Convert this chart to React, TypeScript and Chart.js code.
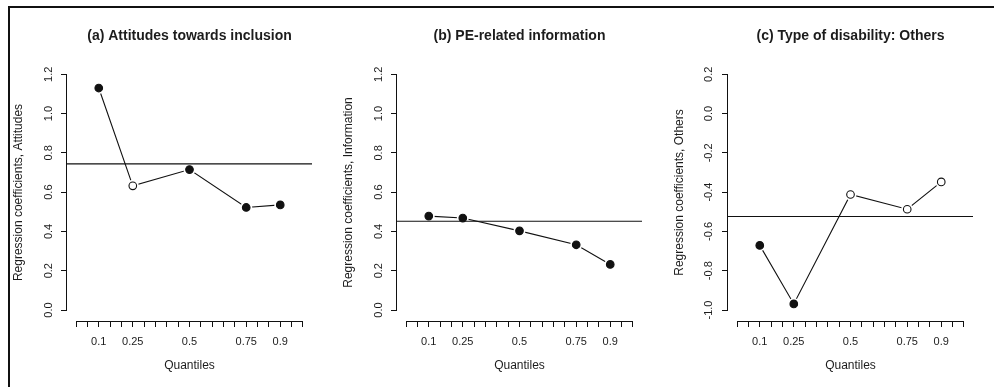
import React, { useEffect, useRef } from "react";
import { Chart, registerables } from "chart.js";

Chart.register(...registerables);

// ---- data ----
const QUANTILES = [0.1, 0.25, 0.5, 0.75, 0.9];
const X_TICKS = [0, 0.05, 0.1, 0.15, 0.2, 0.25, 0.3, 0.35, 0.4, 0.45, 0.5, 0.55, 0.6, 0.65, 0.7, 0.75, 0.8, 0.85, 0.9, 0.95, 1];
const X_LABELED = [0.1, 0.25, 0.5, 0.75, 0.9];

const ATTITUDES = [1.13, 0.632, 0.715, 0.522, 0.535];
const ATTITUDES_SIG = [true, false, true, true, true];
const ATTITUDES_OLS = 0.744;

const INFORMATION = [0.478, 0.468, 0.403, 0.332, 0.232];
const INFORMATION_SIG = [true, true, true, true, true];
const INFORMATION_OLS = 0.452;

const OTHERS = [-0.671, -0.969, -0.412, -0.487, -0.348];
const OTHERS_SIG = [true, true, false, false, false];
const OTHERS_OLS = -0.524;

const Y_TICKS_POS = [0, 0.2, 0.4, 0.6, 0.8, 1.0, 1.2];
const Y_TICKS_NEG = [-1.0, -0.8, -0.6, -0.4, -0.2, 0.0, 0.2];

const TITLES = [
  "(a) Attitudes towards inclusion",
  "(b) PE-related information",
  "(c) Type of disability: Others",
];
const Y_TITLES = [
  "Regression coefficients, Attitudes",
  "Regression coefficients, Information",
  "Regression coefficients, Others",
];
const X_TITLE = "Quantiles";

// ---- styling / layout ----
const FONT = "'Liberation Sans', Arial, Helvetica, sans-serif";
const INK = "#111111";
const TEXT = "#1c1c1c";
const X_MIN = -0.04;
const X_MAX = 1.04;

type Panel = {
  title: string;
  yTitle: string;
  values: number[];
  sig: boolean[];
  ols: number;
  yTicks: number[];
  yMin: number;
  yMax: number;
  left: number;
};

const PANELS: Panel[] = [
  { title: TITLES[0], yTitle: Y_TITLES[0], values: ATTITUDES, sig: ATTITUDES_SIG, ols: ATTITUDES_OLS, yTicks: Y_TICKS_POS, yMin: -0.056, yMax: 1.2524, left: 0 },
  { title: TITLES[1], yTitle: Y_TITLES[1], values: INFORMATION, sig: INFORMATION_SIG, ols: INFORMATION_OLS, yTicks: Y_TICKS_POS, yMin: -0.056, yMax: 1.2524, left: 330 },
  { title: TITLES[2], yTitle: Y_TITLES[2], values: OTHERS, sig: OTHERS_SIG, ols: OTHERS_OLS, yTicks: Y_TICKS_NEG, yMin: -1.056, yMax: 0.2524, left: 661 },
];

const CANVAS_W = 331;
const CANVAS_H = 387;

const align = (p: number) => Math.round(p - 0.5) + 0.5;

const rAxisLines = {
  id: "rAxisLines",
  afterDraw(chart: any, _args: any, opts: any) {
    const { ctx, chartArea, scales } = chart;
    const x = scales.x;
    const y = scales.y;
    const yt: number[] = opts.yTicks || [];
    ctx.save();
    ctx.strokeStyle = INK;
    ctx.lineWidth = 1;
    // x axis line spanning first..last tick
    const by = Math.round(chartArea.bottom) + 0.5;
    ctx.beginPath();
    ctx.moveTo(align(x.getPixelForValue(X_TICKS[0])) - 0.5, by);
    ctx.lineTo(align(x.getPixelForValue(X_TICKS[X_TICKS.length - 1])) + 0.5, by);
    ctx.stroke();
    // y axis line spanning first..last tick
    const lx = Math.round(chartArea.left) - 0.5;
    ctx.beginPath();
    ctx.moveTo(lx, align(y.getPixelForValue(yt[0])) + 0.5);
    ctx.lineTo(lx, align(y.getPixelForValue(yt[yt.length - 1])) - 0.5);
    ctx.stroke();
    ctx.restore();
  },
};

function PanelChart({ panel }: { panel: Panel }) {
  const ref = useRef<HTMLCanvasElement | null>(null);

  useEffect(() => {
    if (!ref.current) return;
    const points = QUANTILES.map((q, i) => ({ x: q, y: panel.values[i] }));
    const chart = new Chart(ref.current, {
      type: "scatter",
      data: {
        datasets: [
          {
            label: "markers",
            data: points,
            showLine: false,
            pointRadius: 3.8,
            pointBorderWidth: 1.1,
            pointBackgroundColor: panel.sig.map((s) => (s ? INK : "#ffffff")),
            pointBorderColor: INK,
            order: 1,
          },
          {
            label: "ols",
            data: [
              { x: X_MIN, y: panel.ols },
              { x: X_MAX, y: panel.ols },
            ],
            showLine: true,
            borderColor: INK,
            borderWidth: 1.1,
            pointRadius: 0,
            order: 2,
          },
          {
            label: "halo",
            data: points,
            showLine: false,
            pointRadius: 6,
            pointBorderWidth: 0,
            pointBackgroundColor: "#ffffff",
            pointBorderColor: "#ffffff",
            order: 3,
          },
          {
            label: "path",
            data: points,
            showLine: true,
            borderColor: INK,
            borderWidth: 1.1,
            pointRadius: 0,
            order: 4,
          },
        ],
      } as any,
      options: {
        responsive: false,
        animation: false,
        events: [],
        layout: { padding: { left: 0, right: CANVAS_W - 312, top: 0, bottom: 0 } },
        plugins: {
          legend: { display: false },
          tooltip: { enabled: false },
          title: {
            display: true,
            text: panel.title,
            fullSize: false,
            color: TEXT,
            font: { family: FONT, size: 14, weight: "bold" },
            padding: { top: 28, bottom: 19.2 },
          },
          rAxisLines: { yTicks: panel.yTicks },
        } as any,
        scales: {
          x: {
            type: "linear",
            min: X_MIN,
            max: X_MAX,
            afterBuildTicks: (s: any) => {
              s.ticks = X_TICKS.map((v) => ({ value: v }));
            },
            afterFit: (s: any) => {
              s.height = 66;
            },
            grid: {
              display: true,
              drawOnChartArea: false,
              drawTicks: true,
              tickLength: 6,
              color: INK,
              tickColor: INK,
              lineWidth: 1,
            },
            border: { display: false },
            ticks: {
              autoSkip: false,
              maxRotation: 0,
              minRotation: 0,
              padding: 8,
              color: TEXT,
              font: { family: FONT, size: 11 },
              callback: (v: any) => (X_LABELED.includes(v) ? String(v) : ""),
            },
            title: {
              display: true,
              text: X_TITLE,
              color: TEXT,
              font: { family: FONT, size: 12 },
              padding: { top: 0, bottom: 14 },
            },
          },
          y: {
            type: "linear",
            min: panel.yMin,
            max: panel.yMax,
            afterBuildTicks: (s: any) => {
              s.ticks = panel.yTicks.map((v) => ({ value: v }));
            },
            afterFit: (s: any) => {
              s.width = 67;
            },
            grid: {
              display: true,
              drawOnChartArea: false,
              drawTicks: true,
              tickLength: 6,
              color: INK,
              tickColor: INK,
              lineWidth: 1,
            },
            border: { display: false },
            ticks: {
              minRotation: 90,
              maxRotation: 90,
              crossAlign: "center",
              padding: 4,
              color: TEXT,
              font: { family: FONT, size: 11 },
              callback: (v: any) => Number(v).toFixed(1),
            },
            title: {
              display: true,
              text: panel.yTitle,
              color: TEXT,
              font: { family: FONT, size: 12 },
              padding: { top: 11, bottom: 0 },
            },
          },
        },
      } as any,
      plugins: [rAxisLines],
    });
    return () => chart.destroy();
  }, [panel]);

  return (
    <canvas
      ref={ref}
      width={CANVAS_W}
      height={CANVAS_H}
      style={{
        position: "absolute",
        left: panel.left,
        top: 0,
        width: CANVAS_W,
        height: CANVAS_H,
        display: "block",
      }}
    />
  );
}

export default function App() {
  return (
    <div
      style={{
        position: "fixed",
        left: 0,
        top: 0,
        width: 994,
        height: 387,
        background: "#ffffff",
        overflow: "hidden",
      }}
    >
      {PANELS.map((p, i) => (
        <PanelChart key={i} panel={p} />
      ))}
      <div
        style={{
          position: "absolute",
          left: 8,
          top: 6,
          width: 1100,
          height: 500,
          borderLeft: `2px solid ${INK}`,
          borderTop: `2px solid ${INK}`,
          pointerEvents: "none",
        }}
      />
    </div>
  );
}
